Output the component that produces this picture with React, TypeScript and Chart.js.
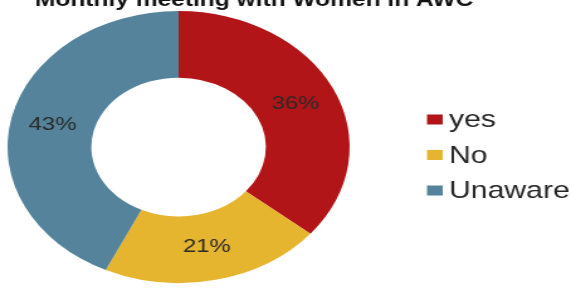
import React, { useEffect, useRef } from "react";
import { Chart, registerables } from "chart.js";

Chart.register(...registerables);

const TITLE = "Monthly meeting with Women in AWC";
const CATEGORIES = ["yes", "No", "Unaware"];
const VALUES = [36, 21, 43];
const COLORS = ["#B21517", "#E6B52F", "#55839B"];

// internal drawing width, stretched horizontally by CSS to the full window width
const INNER_W = 454;
const OUTER_W = 571;
const H = 291;

const labelPlugin = {
  id: "sliceLabels",
  afterDatasetsDraw(chart: any) {
    const ctx = chart.ctx;
    const meta = chart.getDatasetMeta(0);
    const data = chart.data.datasets[0].data as number[];
    ctx.save();
    ctx.font = "19px 'Liberation Sans', Arial, sans-serif";
    ctx.fillStyle = "#2a2a2a";
    ctx.textAlign = "center";
    ctx.textBaseline = "middle";
    meta.data.forEach((arc: any, i: number) => {
      const p = arc.tooltipPosition();
      ctx.fillText(data[i] + "%", p.x, p.y);
    });
    ctx.restore();
  },
};

const titleLegendPlugin = {
  id: "titleLegend",
  afterDraw(chart: any) {
    const ctx = chart.ctx;
    ctx.save();
    // title (cut off at top, as in the reference)
    ctx.font = "bold 19.5px 'Liberation Sans', Arial, sans-serif";
    ctx.fillStyle = "#111";
    ctx.textAlign = "center";
    ctx.textBaseline = "alphabetic";
    ctx.fillText(TITLE, 202, 5.5);

    // legend
    const labels = chart.data.labels as string[];
    const colors = chart.data.datasets[0].backgroundColor as string[];
    const startY = 119.5;
    const gap = 35.5;
    ctx.font = "24px 'Liberation Sans', Arial, sans-serif";
    ctx.textAlign = "left";
    ctx.textBaseline = "middle";
    labels.forEach((lab, i) => {
      const cy = startY + i * gap;
      ctx.fillStyle = colors[i];
      ctx.fillRect(339.5, cy - 5, 12.5, 10);
      ctx.fillStyle = "#262626";
      ctx.fillText(lab, 357, cy + 1);
    });
    ctx.restore();
  },
};

export default function App() {
  const ref = useRef<HTMLCanvasElement | null>(null);

  useEffect(() => {
    if (!ref.current) return;
    const chart = new Chart(ref.current, {
      type: "doughnut",
      data: {
        labels: CATEGORIES,
        datasets: [
          {
            data: VALUES,
            backgroundColor: COLORS,
            borderWidth: 0,
          },
        ],
      },
      options: {
        responsive: false,
        animation: false,
        cutout: "51%",
        layout: { padding: { left: 6, top: 11, bottom: 8, right: INNER_W - 6 - 272 } },
        plugins: {
          legend: { display: false },
          title: { display: false },
          tooltip: { enabled: false },
        },
      },
      plugins: [labelPlugin, titleLegendPlugin],
    });
    return () => chart.destroy();
  }, []);

  return (
    <div style={{ position: "fixed", left: 0, top: 0, width: OUTER_W, height: H, background: "#fff" }}>
      <canvas
        ref={ref}
        width={INNER_W}
        height={H}
        style={{ width: OUTER_W + "px", height: H + "px", display: "block" }}
      />
    </div>
  );
}
